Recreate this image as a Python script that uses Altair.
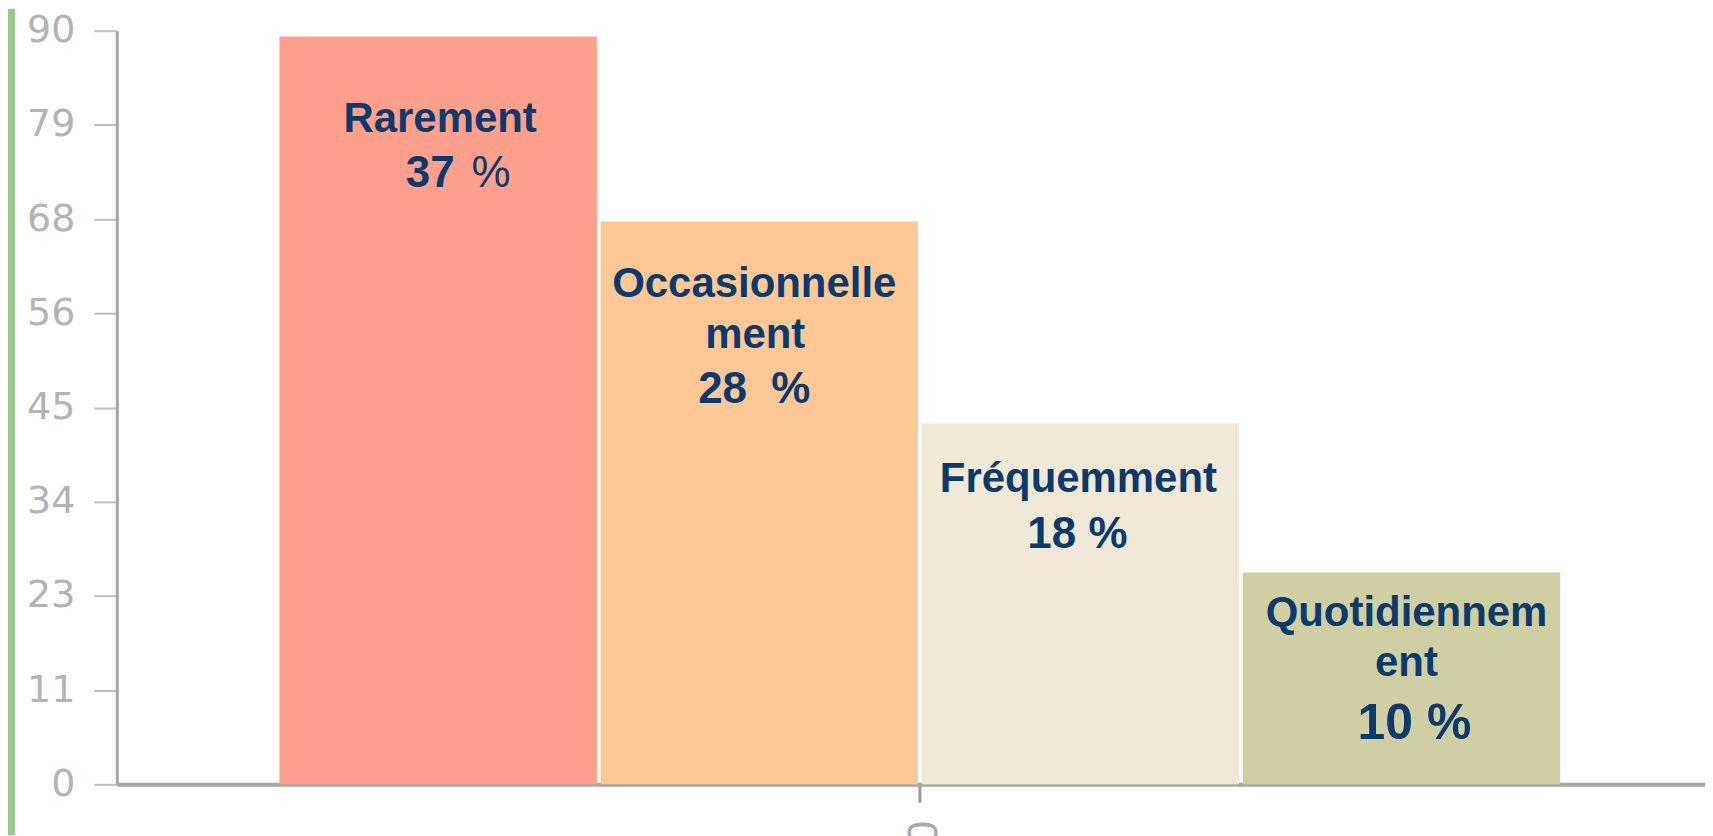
import altair as alt
import pandas as pd

# ---- data ----
categories = ["Rarement", "Occasionnellement", "Fréquemment", "Quotidiennement"]
values = [89.3, 67.2, 43.1, 25.3]
group = "0"
label_lines = [
    ["Rarement", "37", "%"],
    ["Occasionnelle", "ment", "28\u00a0\u00a0%"],
    ["Fréquemment", "18 %"],
    ["Quotidiennem", "ent", "10 %"],
]
y_tick_values = [0, 11.25, 22.5, 33.75, 45, 56.25, 67.5, 78.75, 90]
bar_colors = ["#FFA08C", "#FDC896", "#F1E9D8", "#CFCFA3"]

# ---- styling of each text line: (dx, dy, size, weight) ----
line_styles = [
    [(2, 96, 42, "bold"), (-8, 151, 44, "bold"), (53, 151, 44, "normal")],
    [(-5, 76, 42, "bold"), (-4, 127, 42, "bold"), (-5, 182, 44, "bold")],
    [(-2, 69, 42, "bold"), (-3, 125, 44, "bold")],
    [(5, 54, 42, "bold"), (5, 104, 42, "bold"), (13, 167, 50, "bold")],
]

bars_df = pd.DataFrame({"group": [group] * len(categories), "category": categories, "value": values})

rows = []
for cat, val, lines in zip(categories, values, label_lines):
    for j, t in enumerate(lines):
        rows.append({"group": group, "category": cat, "value": val, "text": t, "key": f"{cat}_{j}"})
text_df = pd.DataFrame(rows)

x_enc = alt.X(
    "group:N",
    scale=alt.Scale(paddingInner=0, paddingOuter=0.12, align=0.529),
    axis=alt.Axis(
        title=None, labelAngle=90, labelFontSize=40, labelFont="DejaVu Sans",
        labelColor="#a9a9a9", tickSize=18, tickWidth=3, tickColor="#9a9a9a",
        domainColor="#a6a6a6", domainWidth=4, labelPadding=17,
    ),
)
xoff_scale = alt.Scale(domain=categories, paddingInner=0.0114, paddingOuter=0)
y_enc = alt.Y(
    "value:Q",
    scale=alt.Scale(domain=[0, 90], nice=False),
    axis=alt.Axis(
        title=None, values=y_tick_values, format=".0f", grid=False,
        labelFontSize=38, labelFont="DejaVu Sans", labelColor="#b3b3b3",
        tickSize=23, tickWidth=2, tickColor="#bdbdbd",
        domainColor="#a6a6a6", domainWidth=3, labelPadding=19,
    ),
)

bars = alt.Chart(bars_df).mark_bar().encode(
    x=x_enc,
    xOffset=alt.XOffset("category:N", sort=categories, scale=xoff_scale),
    y=y_enc,
    color=alt.Color("category:N", sort=categories,
                    scale=alt.Scale(domain=categories, range=bar_colors), legend=None),
)

layers = [bars]
for cat, lines, styles in zip(categories, label_lines, line_styles):
    for j, (t, (dx, dy, size, weight)) in enumerate(zip(lines, styles)):
        layers.append(
            alt.Chart(text_df).transform_filter(alt.datum.key == f"{cat}_{j}")
            .mark_text(font="Liberation Sans", fontSize=size, fontWeight=weight,
                       color="#0B3A6C", align="center", baseline="alphabetic", dx=dx, dy=dy)
            .encode(
                x="group:N",
                xOffset=alt.XOffset("category:N", sort=categories),
                y="value:Q",
                text="text:N",
            )
        )

strip = alt.Chart(pd.DataFrame({"s": [0]})).mark_rect(color="#98CB8F").encode(
    x=alt.value(-109), x2=alt.value(-102), y=alt.value(-22), y2=alt.value(806)
)
layers.append(strip)

chart = alt.layer(*layers).properties(
    width=1591, height=755,
    autosize=alt.AutoSizeParams(type="none"),
    padding={"left": 109, "top": 22, "right": 0, "bottom": 51},
).configure_view(stroke=None)

chart.save("out.html", embed_options={"renderer": "svg", "actions": False})
